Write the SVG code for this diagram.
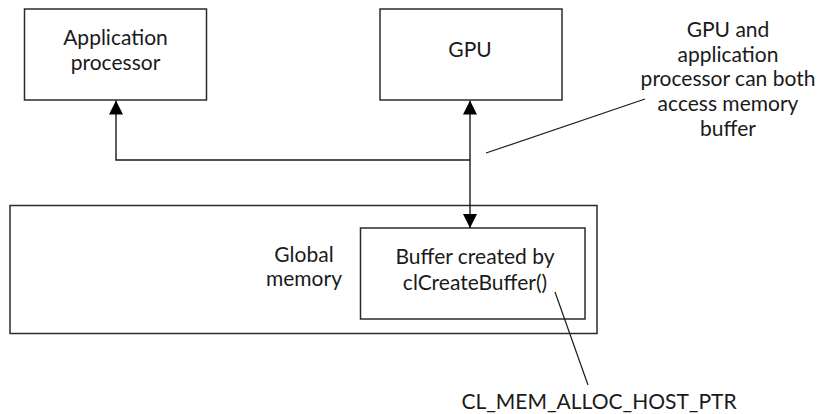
<svg xmlns="http://www.w3.org/2000/svg" width="820" height="414" viewBox="0 0 820 414">
<style>
.box{fill:#fff;stroke:#2b2b2b;stroke-width:1.5}
.t{font-family:Lato,"Open Sans",sans-serif;font-size:21px;fill:#1a1a1a;text-anchor:middle}
.ln{fill:none;stroke:#1a1a1a;stroke-width:1.4}
.cl{fill:none;stroke:#1a1a1a;stroke-width:1.2}
</style>
<defs>
<marker id="ah" viewBox="0 0 14 14" refX="14" refY="7" markerWidth="14" markerHeight="14" markerUnits="userSpaceOnUse" orient="auto-start-reverse">
<path d="M0,0 L14,7 L0,14 Z" fill="#000"/>
</marker>
</defs>
<rect width="820" height="414" fill="#fff"/>
<g id="app">
<rect class="box" x="24.5" y="9" width="182" height="91"/>
<text class="t" x="115.5" y="45">Application</text>
<text class="t" x="115.5" y="70">processor</text>
</g>
<g id="gpu">
<rect class="box" x="380" y="9" width="182" height="91"/>
<text class="t" x="470" y="57">GPU</text>
</g>
<g id="global">
<rect class="box" x="10" y="205.5" width="587" height="128"/>
<text class="t" x="304" y="262">Global</text>
<text class="t" x="304" y="286">memory</text>
</g>
<g id="buffer">
<rect class="box" x="360.5" y="228" width="224.5" height="91"/>
<text class="t" x="475" y="264">Buffer created by</text>
<text class="t" x="475" y="290">clCreateBuffer()</text>
</g>
<g id="note1">
<text class="t" x="728" y="37">GPU and</text>
<text class="t" x="728" y="62">application</text>
<text class="t" x="728" y="86">processor can both</text>
<text class="t" x="728" y="111">access memory</text>
<text class="t" x="728" y="136">buffer</text>
</g>
<g id="note2">
<text class="t" x="599" y="409">CL_MEM_ALLOC_HOST_PTR</text>
</g>
<g id="connectors">
<path class="ln" d="M470,160 L116,160 L116,100.5" marker-end="url(#ah)"/>
<path class="ln" d="M470,100.5 L470,228" marker-start="url(#ah)" marker-end="url(#ah)"/>
<path class="cl" d="M486,153 L645,99"/>
<path class="cl" d="M555,292 L588,385"/>
</g>
</svg>
